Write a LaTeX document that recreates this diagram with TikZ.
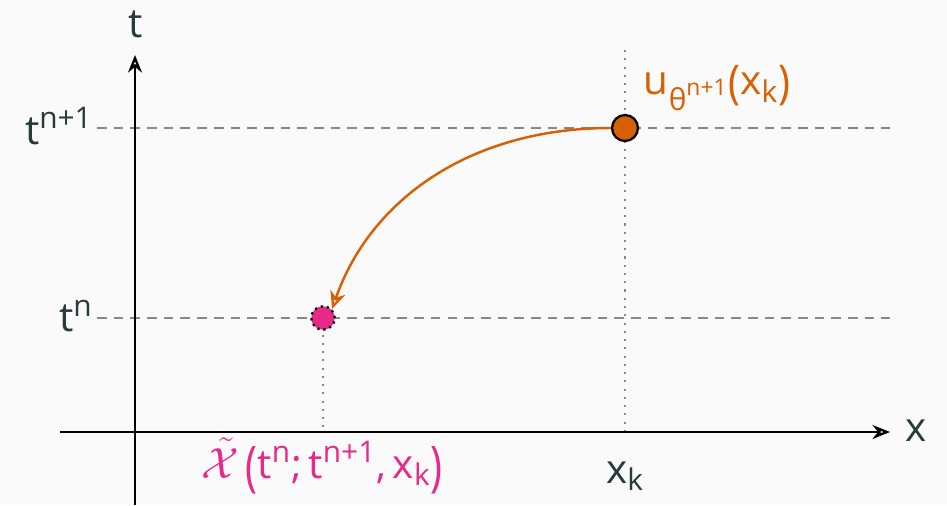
\documentclass[tikz,border=0pt]{standalone}
\usepackage{amsmath}
\usepackage{graphicx}
\usepackage{fontspec}
\setmainfont{Open Sans}
\usetikzlibrary{arrows.meta}
\DeclareMathSizes{23}{23}{17}{13}
\definecolor{bg}{HTML}{FAFAFA}
\definecolor{ink}{HTML}{263C3C}
\definecolor{orng}{HTML}{D95F02}
\definecolor{pnk}{HTML}{E7298A}
\definecolor{grid}{HTML}{888888}
\newcommand{\LP}[2]{\raisebox{#1}{\scalebox{1}[#2]{(}}}
\newcommand{\RP}[2]{\raisebox{#1}{\scalebox{1}[#2]{)}}}
\begin{document}
\begin{tikzpicture}[x=0.02cm,y=-0.02cm,
  lbl/.style={font=\fontsize{23}{27}\selectfont, text=ink, inner sep=0pt},
  axis/.style={line width=1.3pt, -{Stealth[open,length=10pt,width=8pt]}},
  guide/.style={grid, line width=1.2pt, dash pattern=on 5.5pt off 4pt},
  dots/.style={grid, line width=1.2pt, dash pattern=on 1.2pt off 3.5pt}]
\fill[bg] (0,0) rectangle (947,505);
\useasboundingbox (0,0) rectangle (947,505);
% guides
\draw[guide] (97,128) -- (890,128);
\draw[guide] (97,318) -- (890,318);
\draw[dots] (625,50) -- (625,432);
\draw[dots] (323,318) -- (323,432);
% axes
\coordinate (xs) at (60,432);
\coordinate (xe) at (890,432);
\coordinate (ys) at (135,505);
\coordinate (ye) at (135,55);
\draw[axis] (xs) -- (xe);
\draw[axis] (ys) -- (ye);
\node[lbl] (tl) at (136,24) {t};
\node[lbl] (xl) at (916,431) {x};
\node[lbl, anchor=east] (tn1) at (93,126) {t$^{\text{n+1}}$};
\node[lbl, anchor=east] (tn) at (93,316) {t$^{\text{n}}$};
% points
\node[circle, draw=black, line width=1.3pt, fill=orng, inner sep=0pt, minimum size=0.52cm] (u) at (625,128) {};
\node[circle, draw=black, line width=1.3pt, dash pattern=on 1.3pt off 2.2pt, fill=pnk, inner sep=0pt, minimum size=0.47cm] (p) at (323,318) {};
\draw[orng, line width=1.4pt, -{Stealth[open,length=10pt,width=9pt]}] (u.west) .. controls (470,128) and (370,200) .. (p.north east);
% labels
\node[lbl, text=orng] (ul) at (717,88) {u$_{\text{θ}^{\text{n+1}}}$\LP{-2pt}{1.15}x$_{\text{k}}$\RP{-2pt}{1.15}};
\node[lbl, text=pnk] (xl2) at (322,466) {$\tilde{\mathcal{X}}$\,\LP{-4pt}{1.35}t$^{\text{n}}$;\,t$^{\text{n+1}}$,\,x$_{\text{k}}$\RP{-4pt}{1.35}};
\node[lbl] (xk) at (625,476) {x$_{\text{k}}$};
\end{tikzpicture}
\end{document}
